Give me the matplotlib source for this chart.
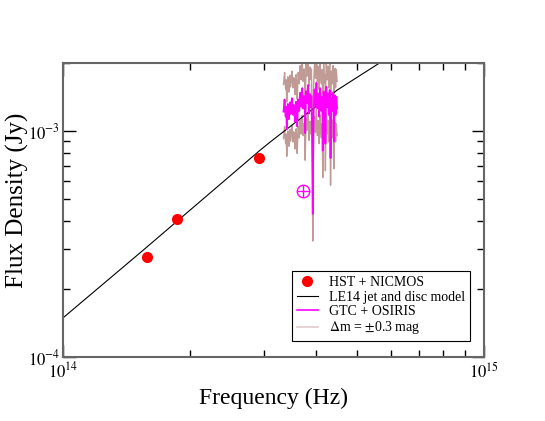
import matplotlib
matplotlib.use("Agg")
import matplotlib.pyplot as plt
import numpy as np

plt.rcParams['font.family'] = ['Liberation Serif', 'DejaVu Serif']
plt.rcParams['mathtext.fontset'] = 'stix'

# HST + NICMOS photometry
hst_nu = [1.58e14, 1.87e14, 2.92e14]
hst_f = [2.77e-4, 4.08e-4, 7.6e-4]
hst_err = [0.08e-4, 0.1e-4, 0.35e-4]

# LE14 jet and disc model
mod_nu = [1.0e14, 1.55e14, 2.94e14, 3.10e14, 4.48e14, 5.64e14, 6.2e14]
mod_f = [1.49e-4, 2.97e-4, 8.24e-4, 8.93e-4, 1.52e-3, 2.0e-3, 2.2e-3]

# GTC + OSIRIS spectrum (nu in 1e14 Hz, 3.34 .. 4.48 step 0.01; flux in 1e-3 Jy)
spec_nu_start, spec_nu_step = 3.34, 0.01
spec_f = [1.22, 1.30, 1.38, 1.24, 1.16, 1.28, 1.02, 1.20, 1.32, 1.26,
          1.13, 1.27, 1.34, 1.19, 1.24, 1.36, 1.40, 1.23, 1.18, 1.31,
          1.29, 1.17, 1.10, 1.26, 1.35, 1.21, 1.05, 1.22, 1.38, 1.30,
          1.23, 1.42, 1.48, 1.31, 1.28, 1.44, 1.55, 1.34, 1.26, 1.41,
          1.43, 1.28, 0.98, 1.23, 1.50, 1.38, 1.33, 1.52, 1.60, 1.40,
          1.20, 1.36, 1.46, 1.30, 1.28, 1.43, 1.12, 0.90, 0.43, 0.95,
          1.23, 1.40, 1.53, 1.33, 1.30, 1.48, 1.64, 1.40, 1.26, 1.37,
          1.47, 1.31, 1.16, 1.30, 1.55, 1.41, 1.32, 1.23, 1.42, 1.29,
          0.82, 1.18, 1.50, 1.36, 1.24, 1.35, 0.88, 1.26, 1.57, 1.42,
          1.28, 1.40, 1.47, 1.30, 1.18, 1.35, 1.52, 1.23, 0.76, 1.10,
          1.40, 1.27, 1.23, 1.42, 1.48, 1.32, 0.90, 1.15, 1.37, 1.44,
          1.18, 1.31, 1.42, 1.31, 1.26]
dmag = 0.3

# integrated point
pt_nu = [3.72e14]
pt_f = [5.43e-4]

nu = (spec_nu_start + spec_nu_step * np.arange(len(spec_f))) * 1e14
f = np.array(spec_f) * 1e-3
fac = 10 ** (0.4 * dmag)

fig = plt.figure(figsize=(5.45, 4.21), dpi=100)
ax = fig.add_axes([0.1156, 0.152, 0.7725, 0.698])

brown = '#c09a94'
ax.plot(nu, f * fac, color=brown, lw=1)
ax.plot(nu, f / fac, color=brown, lw=1)
ax.plot(mod_nu, mod_f, color='black', lw=0.8)
ax.plot(nu, f, color='magenta', lw=1.3)
ax.errorbar(hst_nu, hst_f, yerr=hst_err, fmt='none', ecolor='red',
            elinewidth=1, capsize=0, zorder=5)
ax.plot(hst_nu, hst_f, 'o', color='red', ms=7, zorder=6)
ax.plot(pt_nu, pt_f, 'o', mfc='none', mec='magenta', ms=9, mew=1)
ax.plot(pt_nu, pt_f, '+', color='magenta', ms=9, mew=1)

ax.set_xscale('log')
ax.set_yscale('log')
ax.set_xlim(1e14, 1e15)
ax.set_ylim(1e-4, 2e-3)
ax.set_xticks([1e14, 1e15])
ax.set_xticklabels([r'$10^{14}$', r'$10^{15}$'])
ax.set_yticks([1e-4, 1e-3])
ax.set_yticklabels([r'$10^{-4}$', r'$10^{-3}$'])
ax.tick_params(which='both', direction='in', top=True, right=True, labelsize=12)
ax.tick_params(axis='y', pad=2)
ax.tick_params(which='major', length=9, width=1)
ax.tick_params(which='minor', length=5, width=1)
ax.xaxis.set_minor_formatter(matplotlib.ticker.NullFormatter())
ax.yaxis.set_minor_formatter(matplotlib.ticker.NullFormatter())
for s in ax.spines.values():
    s.set_color('#666666')
    s.set_linewidth(1.5)

ax.set_xlabel('Frequency (Hz)', fontsize=17)
fig.text(17 / 545, 1 - 200 / 421, 'Flux Density (Jy)', fontsize=18,
         rotation=90, ha='center', va='center')

handles = [
    plt.Line2D([], [], ls='none', marker='o', color='red', ms=7),
    plt.Line2D([], [], color='black', lw=0.8),
    plt.Line2D([], [], color='magenta', lw=1.2),
    plt.Line2D([], [], color='#e2cccc', lw=1.2),
]
labels = ['HST + NICMOS', 'LE14 jet and disc model', 'GTC + OSIRIS',
          r'$\Delta$m = $\pm$0.3 mag']
leg = ax.legend(handles, labels, loc='lower right',
                bbox_to_anchor=(0.983, 0.03), fontsize=10, fancybox=False,
                edgecolor='black', framealpha=1, handlelength=1.5,
                borderpad=0.35, labelspacing=0.1, handletextpad=0.8)
leg.get_frame().set_linewidth(0.8)

fig.savefig('out.png', dpi=100)
